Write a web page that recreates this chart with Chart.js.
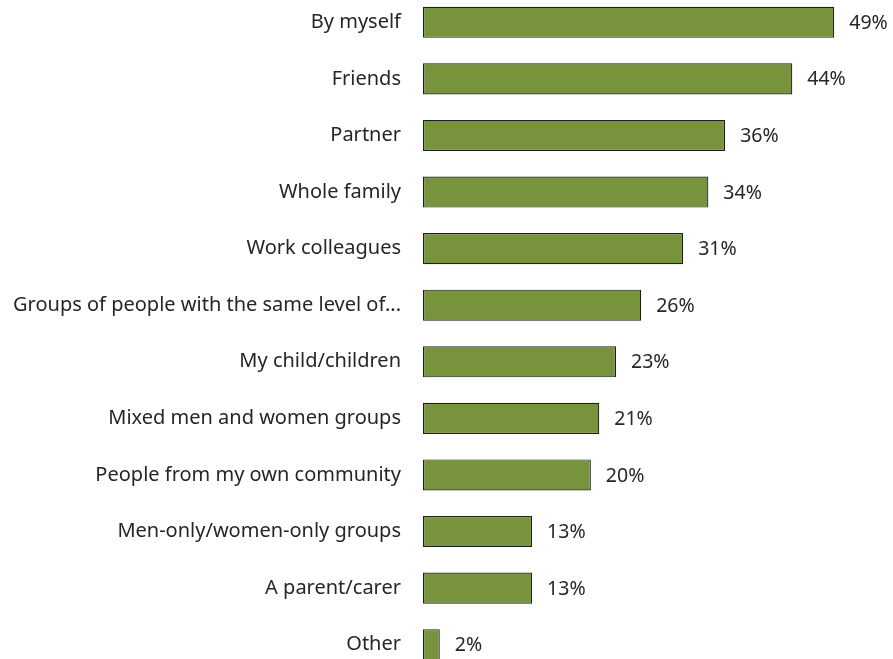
<!DOCTYPE html>
<html>
<head>
<meta charset="utf-8">
<script src="https://cdn.jsdelivr.net/npm/chart.js@4"></script>
<style>
  html, body { margin: 0; padding: 0; background: #fff; overflow: hidden; }
  body { width: 893px; height: 659px; position: relative; }
  #wrap { position: absolute; left: 0; top: -6px; width: 893px; height: 679px; }
</style>
</head>
<body>
<div id="wrap"><canvas id="chart"></canvas></div>
<script>
// Who people take part with (share of respondents)
const categories = [
  'By myself',
  'Friends',
  'Partner',
  'Whole family',
  'Work colleagues',
  'Groups of people with the same level of...',
  'My child/children',
  'Mixed men and women groups',
  'People from my own community',
  'Men-only/women-only groups',
  'A parent/carer',
  'Other'
];
const shares = [49, 44, 36, 34, 31, 26, 23, 21, 20, 13, 13, 2];

const FONT = "'Noto Sans', 'Open Sans', sans-serif";
const TEXT = '#262626';

// value labels drawn just past the end of each bar
const valueLabels = {
  id: 'valueLabels',
  afterDatasetsDraw(chart) {
    const ctx = chart.ctx;
    const meta = chart.getDatasetMeta(0);
    ctx.save();
    ctx.font = '19.5px ' + FONT;
    ctx.fillStyle = TEXT;
    ctx.textAlign = 'left';
    ctx.textBaseline = 'middle';
    meta.data.forEach((bar, i) => {
      ctx.fillText(shares[i] + '%', bar.x + 15, bar.y + 1);
    });
    ctx.restore();
  }
};

new Chart(document.getElementById('chart'), {
  type: 'bar',
  data: {
    labels: categories,
    datasets: [{
      data: shares,
      backgroundColor: '#77933C',
      borderColor: '#1E1E1E',
      borderWidth: 1.2,
      borderSkipped: false,
      barPercentage: 0.55,
      categoryPercentage: 1
    }]
  },
  options: {
    indexAxis: 'y',
    responsive: true,
    maintainAspectRatio: false,
    animation: false,
    layout: { padding: 0 },
    plugins: {
      legend: { display: false },
      tooltip: { enabled: false }
    },
    scales: {
      x: {
        display: false,
        min: 0,
        max: 56
      },
      y: {
        grid: { display: false, drawTicks: false },
        border: { display: false },
        afterFit(scale) {
          scale.width = 423;
          scale.paddingTop = 0;
          scale.paddingBottom = 0;
        },
        ticks: {
          color: TEXT,
          padding: 22,
          font: { family: FONT, size: 20 }
        }
      }
    }
  },
  plugins: [valueLabels]
});
</script>
</body>
</html>
